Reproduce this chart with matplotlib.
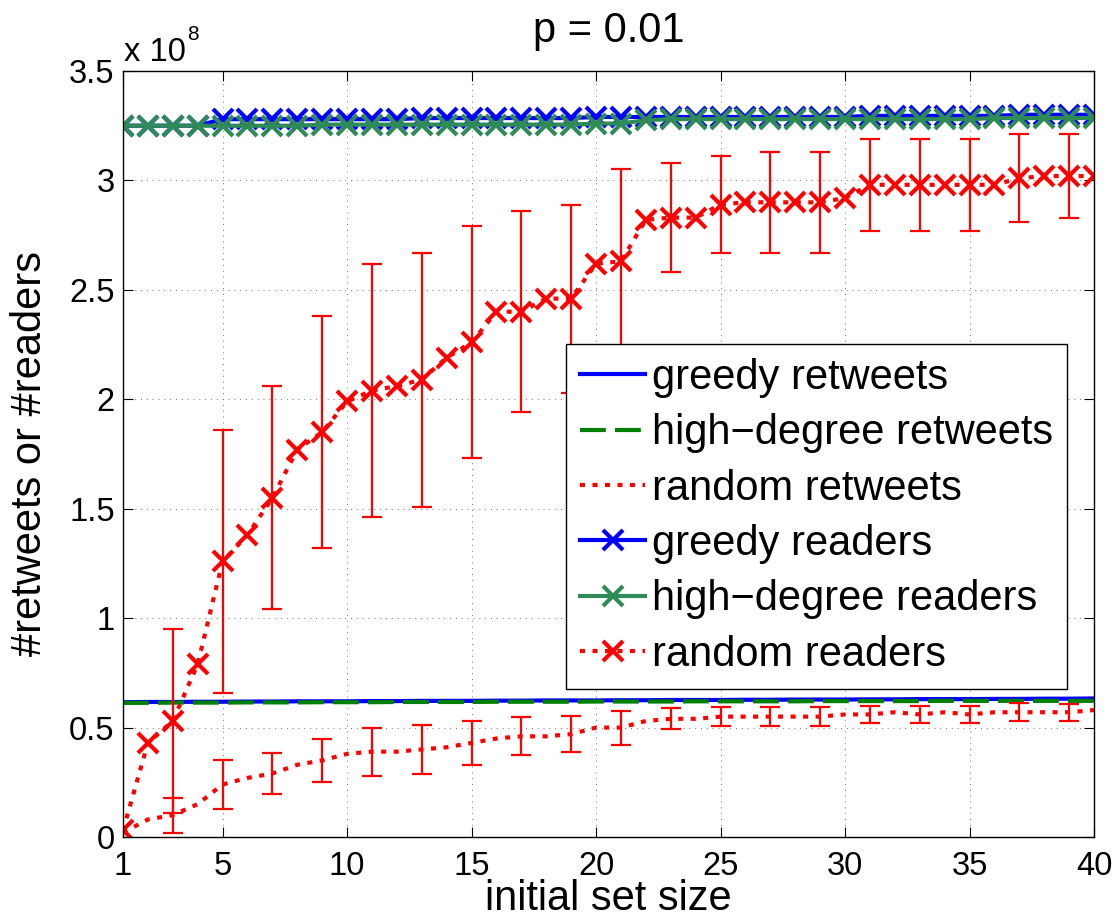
import matplotlib
matplotlib.use("Agg")
import matplotlib.pyplot as plt

plt.rcParams["font.family"] = ["Liberation Sans", "DejaVu Sans"]

# initial set size
set_size = list(range(1, 41))

# values in units of 1e8
greedy_retweets = [0.616, 0.617, 0.617, 0.618, 0.618, 0.619, 0.619, 0.620, 0.620, 0.620,
                   0.621, 0.621, 0.622, 0.622, 0.622, 0.623, 0.623, 0.624, 0.624, 0.624,
                   0.625, 0.625, 0.626, 0.626, 0.626, 0.627, 0.627, 0.628, 0.628, 0.628,
                   0.629, 0.629, 0.630, 0.630, 0.630, 0.631, 0.631, 0.632, 0.632, 0.633]
highdeg_retweets = [0.613, 0.613, 0.614, 0.614, 0.614, 0.615, 0.615, 0.615, 0.616, 0.616,
                    0.616, 0.617, 0.617, 0.617, 0.617, 0.618, 0.618, 0.618, 0.618, 0.619,
                    0.619, 0.619, 0.619, 0.620, 0.620, 0.620, 0.620, 0.620, 0.621, 0.621,
                    0.621, 0.621, 0.621, 0.622, 0.622, 0.622, 0.622, 0.622, 0.622, 0.622]
random_retweets = [0.02, 0.08, 0.10, 0.15, 0.24, 0.27, 0.29, 0.33, 0.35, 0.38,
                   0.39, 0.39, 0.40, 0.41, 0.43, 0.45, 0.46, 0.46, 0.47, 0.50,
                   0.50, 0.53, 0.54, 0.54, 0.55, 0.55, 0.55, 0.55, 0.55, 0.56,
                   0.56, 0.57, 0.56, 0.57, 0.56, 0.57, 0.57, 0.57, 0.57, 0.58]
greedy_readers = [3.25, 3.25, 3.25, 3.25, 3.28, 3.28, 3.28, 3.28, 3.28, 3.28,
                  3.28, 3.28, 3.285, 3.285, 3.285, 3.285, 3.285, 3.285, 3.285, 3.29,
                  3.29, 3.29, 3.29, 3.29, 3.29, 3.29, 3.29, 3.29, 3.29, 3.29,
                  3.295, 3.295, 3.295, 3.295, 3.295, 3.295, 3.30, 3.30, 3.30, 3.30]
highdeg_readers = [3.25, 3.25, 3.25, 3.25, 3.25, 3.25, 3.25, 3.25, 3.255, 3.255,
                   3.255, 3.255, 3.255, 3.255, 3.255, 3.255, 3.255, 3.255, 3.255, 3.26,
                   3.26, 3.275, 3.28, 3.28, 3.28, 3.28, 3.28, 3.28, 3.28, 3.28,
                   3.28, 3.28, 3.28, 3.28, 3.28, 3.285, 3.285, 3.285, 3.285, 3.285]
random_readers = [0.03, 0.43, 0.53, 0.79, 1.26, 1.38, 1.55, 1.77, 1.85, 1.99,
                  2.04, 2.06, 2.09, 2.19, 2.26, 2.40, 2.40, 2.46, 2.46, 2.62,
                  2.63, 2.82, 2.83, 2.83, 2.89, 2.90, 2.90, 2.90, 2.90, 2.92,
                  2.98, 2.98, 2.98, 2.98, 2.98, 2.98, 3.01, 3.02, 3.02, 3.02]

# standard deviations shown at odd set sizes 3, 5, ..., 39
err_sizes = list(range(3, 40, 2))
random_retweets_std = [0.08, 0.113, 0.095, 0.099, 0.11, 0.11, 0.099, 0.087, 0.082, 0.078,
                       0.048, 0.044, 0.044, 0.044, 0.04, 0.04, 0.04, 0.04, 0.038]
random_readers_std = [0.42, 0.60, 0.51, 0.53, 0.58, 0.58, 0.53, 0.46, 0.43, 0.42,
                      0.25, 0.22, 0.23, 0.23, 0.21, 0.21, 0.21, 0.20, 0.19]

x_ticks = [1, 5, 10, 15, 20, 25, 30, 35, 40]
y_ticks = [0, 0.5, 1, 1.5, 2, 2.5, 3, 3.5]

W, H = 1114, 923
fig = plt.figure(figsize=(W / 100, H / 100), dpi=100)
ax = fig.add_axes([123 / W, 1 - 837 / H, 971 / W, 766 / H])

LW = 3
dotted = (0, (1.2, 1.8))
dashed = (0, (6.2, 2.2))
seagreen = "#2E8B57"

def values_at(series, xs):
    return [series[set_size.index(v)] for v in xs]

h1, = ax.plot(set_size, greedy_retweets, color="blue", lw=LW, label="greedy retweets")
h2, = ax.plot(set_size, highdeg_retweets, color=(0, 0.5, 0), lw=LW, linestyle=dashed,
              label="high\u2212degree retweets")
h3, = ax.plot(set_size, random_retweets, color="red", lw=LW, linestyle=dotted,
              label="random retweets")
ax.errorbar(err_sizes, values_at(random_retweets, err_sizes), yerr=random_retweets_std,
            fmt="none", ecolor="red", elinewidth=1.6, capsize=7.5, capthick=1.6)
mk = dict(marker="x", markersize=14, markeredgewidth=3)
h4, = ax.plot(set_size, greedy_readers, color="blue", lw=LW, label="greedy readers", **mk)
h5, = ax.plot(set_size, highdeg_readers, color=seagreen, lw=LW,
              label="high\u2212degree readers", **mk)
h6, = ax.plot(set_size, random_readers, color="red", lw=LW, linestyle=dotted,
              label="random readers", **mk)
ax.errorbar(err_sizes, values_at(random_readers, err_sizes), yerr=random_readers_std,
            fmt="none", ecolor="red", elinewidth=1.6, capsize=7.5, capthick=1.6)

ax.set_xlim(1, 40)
ax.set_ylim(0, 3.5)
ax.set_xticks(x_ticks)
ax.set_yticks(y_ticks)
ax.set_yticklabels(["0", "0.5", "1", "1.5", "2", "2.5", "3", "3.5"])
ax.tick_params(direction="in", top=True, right=True, length=7, width=0.8,
               labelsize=23.5)
ax.tick_params(axis="x", pad=10)
ax.tick_params(axis="y", pad=6)
for s in ax.spines.values():
    s.set_linewidth(1.0)

ax.grid(True, linestyle=(0, (1, 5)), color="0.45", linewidth=0.7)
ax.set_axisbelow(True)

ax.set_title("p = 0.01", fontsize=30, pad=21)
ax.set_xlabel("initial set size", fontsize=30, labelpad=-2)
ax.set_ylabel("#retweets or #readers", fontsize=30, labelpad=14)

fig.text(124 / W, 1 - 60.7 / H, "x 10", fontsize=23.5, ha="left", va="baseline")
fig.text(187 / W, 1 - 40 / H, "8", fontsize=15, ha="left", va="baseline")

leg = ax.legend(handles=[h1, h2, h3, h4, h5, h6], loc="upper right",
                bbox_to_anchor=((1067 - 123) / 971, (837 - 344) / 766),
                borderaxespad=0, fontsize=30, handlelength=1.56, handletextpad=0.17,
                labelspacing=0.37, borderpad=0.33, fancybox=False, framealpha=1,
                edgecolor="black", numpoints=1)
leg.get_frame().set_linewidth(1.0)

fig.savefig("out.png", dpi=100)
